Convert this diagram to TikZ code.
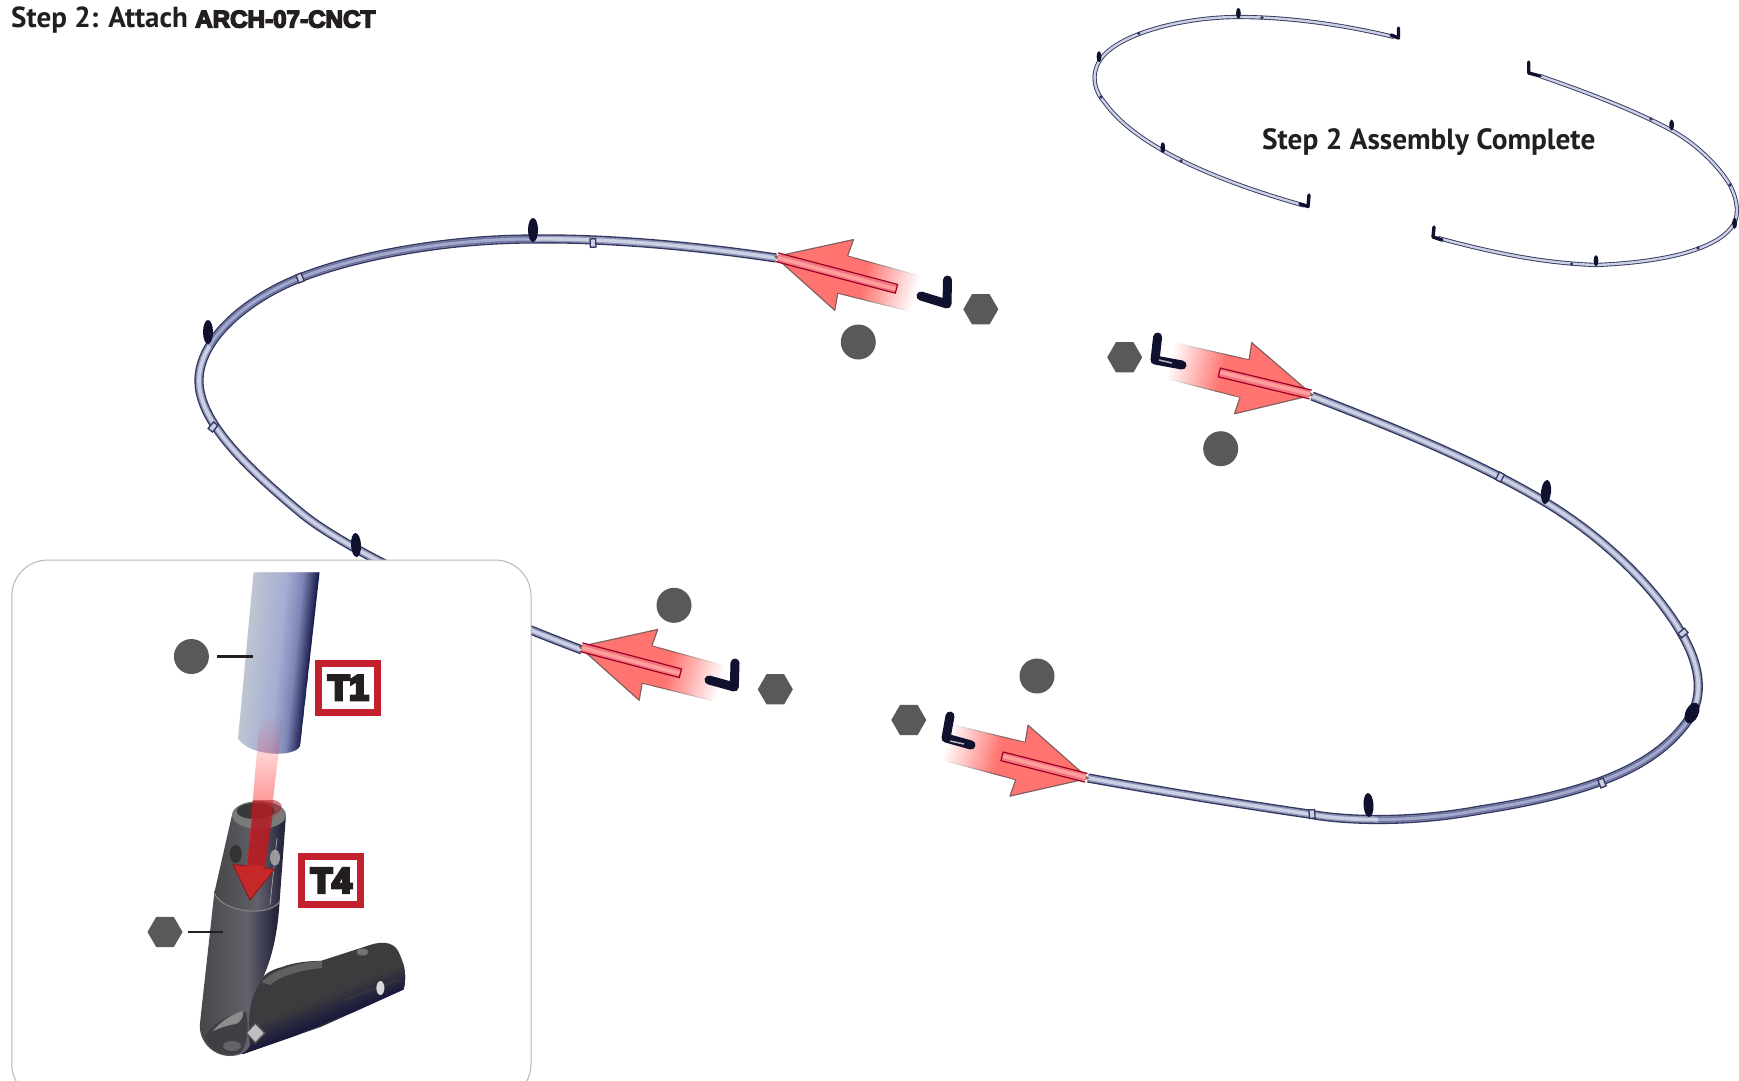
\documentclass[tikz,border=0pt]{standalone}
\usepackage{fontspec}
\usetikzlibrary{shapes.geometric,fadings}
\setmainfont{PT Sans}
\newcommand{\heavyfont}[2]{\font\hvtmp="Liberation Sans/B:embolden=#2" at #1pt \hvtmp}
\definecolor{markgray}{HTML}{58595B}
\definecolor{inkc}{HTML}{231F20}
\definecolor{labelred}{HTML}{C1202C}
\definecolor{arrowred}{HTML}{FF7470}
\definecolor{arrowedge}{HTML}{84605E}
\definecolor{navy}{HTML}{10112F}
\definecolor{tubedark}{HTML}{33375F}
\definecolor{tubemid}{HTML}{8D93B4}
\definecolor{tubelight}{HTML}{CBD0E4}
\definecolor{tubeshadow}{HTML}{6D73A0}
\definecolor{tubeshadowc}{HTML}{A3A9CC}
\definecolor{t0}{HTML}{BFC5D2}\definecolor{t1}{HTML}{A5AED3}\definecolor{t2}{HTML}{7F86B6}\definecolor{t3}{HTML}{1C2050}
\definecolor{s0}{HTML}{47474B}\definecolor{s1}{HTML}{55555A}\definecolor{s2}{HTML}{62626E}\definecolor{s3}{HTML}{26263C}
\pgfdeclarehorizontalshading{greyshade}{100bp}{color(0bp)=(s0);color(25bp)=(s0);color(42bp)=(s1);color(55bp)=(s2);color(72bp)=(s3);color(100bp)=(s3)}
\definecolor{a0}{HTML}{3C3C3E}\definecolor{a1}{HTML}{1B1B3D}
\tikzset{
  partcircle/.style={circle,fill=markgray,draw=none,minimum size=35,inner sep=0},
  parthex/.style={regular polygon,regular polygon sides=6,fill=markgray,draw=none,minimum size=35,inner sep=0},
  bigpipe/.style={draw=tubemid,line width=6.5,preaction={draw=tubedark,line width=9.2},postaction={draw=tubelight,line width=3.6}},
  darkpipe/.style={draw=tubeshadow,line width=6,postaction={draw=tubeshadowc,line width=3}},
  smallpipe/.style={draw=tubelight,line width=2.4,preaction={draw=tubedark,line width=4.2}},
  pinfill/.style={fill=navy},
  lpart/.style={draw=navy,line width=9,line cap=round,line join=round},
  lpartsmall/.style={draw=navy,line width=3.4,line cap=round,line join=round},
  leader/.style={draw=inkc,line width=2.5},
  tag/.style={draw=labelred,line width=7,fill=white,minimum width=59,minimum height=48.5,inner sep=0,text=inkc,font=\heavyfont{35}{9}},
  bandmark/.style={fill=tubelight,draw=tubedark,line width=1.3},
}
% tip x, tip y, angle of the tail as seen from the tip, tube length
\newcommand{\partarrow}[4]{%
  \begin{scope}[shift={(#1,#2)},rotate=#3]
    \foreach \i in {0,...,23}{
      \pgfmathsetmacro{\xa}{148-\i*3.25}
      \pgfmathsetmacro{\xb}{\xa-4.5}
      \pgfmathsetmacro{\ka}{min(100,\i*6)}
      \pgfmathsetmacro{\hw}{18.3+\i*0.04}
      \fill[arrowred!\ka!white] (\xa,-\hw) -- (\xb,-\hw) -- (\xb,\hw) -- (\xa,\hw) -- cycle;
      \draw[arrowedge!\ka!white,line width=1] (\xa,-\hw) -- (\xb,-\hw) (\xa,\hw) -- (\xb,\hw);
    }
    \draw[fill=arrowred,draw=arrowedge,line width=1.2,line join=round]
      (70,-19.3) -- (71.5,-36.6) -- (0,0) -- (71.5,36.6) -- (70,19.3);
    \fill[arrowred] (70,-18.7) rectangle (76,18.7);
    \fill[arrowred!70!purple!80!white] (3,-3.5) rectangle (#4,4.5);
    \fill[arrowred!70!white] (3,-1.5) rectangle (#4,2.2);
    \draw[draw=black!30!purple!80!red,line width=1.2] (2,-4.5) -- (#4,-4.5) -- (#4,4.5) -- (2,4.5);
  \end{scope}}
% strips along the inset tube: first, last, two colours
\newcommand{\tubestrips}[4]{%
  \foreach \i in {#1,...,#2}{
    \pgfmathsetmacro{\ka}{100*(#2-\i)/(#2-#1)}
    \pgfmathsetmacro{\fa}{\i/40}
    \pgfmathsetmacro{\fb}{(\i+1.5)/40}
    \fill[#3!\ka!#4] ({253.6+66*\fa},572) -- ({253.6+66*\fb},572) -- ({236.4+64*\fb},756) -- ({236.4+64*\fa},756) -- cycle;
  }}
\begin{document}
\begin{tikzpicture}[x=1pt,y=-1pt]
\clip (0,0) rectangle (1739,1080);
\fill[white] (0,0) rectangle (1739,1080);

% title
\node[anchor=west,inner sep=0,text=inkc,font=\bfseries\fontsize{29}{29}\selectfont] (title) at (11,20) {Step 2: Attach {\heavyfont{24.2}{6}ARCH-07-CNCT}};

% complete assembly
\draw[smallpipe] (1394,37) .. controls (1345,25) and (1290,17) .. (1238,17) .. controls (1185,17) and (1118,33) .. (1100,60) .. controls (1090,76) and (1095,92) .. (1105,103) .. controls (1128,135) and (1185,172) .. (1304,205.5);
\draw[smallpipe] (1540,76) .. controls (1580,90) and (1630,108) .. (1671,130) .. controls (1695,143) and (1718,165) .. (1730,185) .. controls (1740,205) and (1738,220) .. (1731,228) .. controls (1715,248) and (1670,262) .. (1596,265) .. controls (1540,263) and (1490,252) .. (1438,238);
\draw[lpartsmall] (1398.5,28) -- (1398.5,38) -- (1391,35);
\draw[lpartsmall] (1309,195) -- (1308,206.5) -- (1300,204);
\draw[lpartsmall] (1528.7,62) -- (1528.7,73) -- (1540,76);
\draw[lpartsmall] (1434,227) -- (1433,237) -- (1442,240);
\foreach \x/\y in {1238.4/13.3,1099/56.7,1162.8/147.7,1671.6/125,1734.6/223.3,1596/260.7}
  \fill[pinfill] (\x,\y) ellipse [x radius=2.4,y radius=5.5];
\foreach \x/\y in {1138.8/33.3,1262/17.8,1101/97,1181/161,1651/119,1730/185,1698/248,1571.6/264}
  \fill[tubedark] (\x,\y) circle [radius=1.8];
\node[inner sep=0,text=inkc,font=\bfseries\fontsize{29.3}{30}\selectfont] (donelabel) at (1428.7,142) {Step 2 Assembly Complete};

% exploded arches
\draw[bigpipe] (776,258) .. controls (690,245) and (600,238) .. (533,239) .. controls (440,239) and (345,258) .. (290,282) .. controls (245,302) and (198,340) .. (199,382) .. controls (200,420) and (240,462) .. (300,512) .. controls (345,550) and (470,608) .. (582,650);
\draw[darkpipe] (533,239) .. controls (440,239) and (345,258) .. (290,282) .. controls (258.5,296) and (226,318.8) .. (209.7,345.7);
\draw[bigpipe] (1312,396) .. controls (1400,430) and (1480,463) .. (1545,502) .. controls (1610,541) and (1668,600) .. (1690,650) .. controls (1702,678) and (1702,705) .. (1683,727) .. controls (1650,768) and (1590,793) .. (1480,810) .. controls (1405,824) and (1340,820) .. (1309,814) .. controls (1240,804) and (1160,791) .. (1088,778);
\draw[darkpipe] (1693.8,709.6) .. controls (1691.3,715.7) and (1687.75,721.5) .. (1683,727) .. controls (1650,768) and (1590,793) .. (1480,810) .. controls (1442.5,817) and (1407.5,819.5) .. (1378,819.5);
\foreach \x/\y/\a in {533/230/0,208/332/0,356/545/3,1546/492/-6,1368.5/805/3}
  \fill[pinfill,rotate around={\a:(\x,\y)}] (\x,\y) ellipse [x radius=5,y radius=12];
\fill[pinfill,rotate around={-25:(1692,713)}] (1692,713) ellipse [x radius=6.5,y radius=11];
\foreach \x/\y/\a in {593/243/3,300/278/22,213/427/-40,1500/477/-28,1683/633/-50,1602/783/22,1312/814/5}
  \draw[bandmark,rotate around={\a:(\x,\y)}] (\x-2.8,\y-4.2) rectangle (\x+2.8,\y+4.2);

% four arrows with their parts
\partarrow{775}{256.7}{-14.8}{125.6}
\partarrow{1312.6}{395}{166.4}{96}
\partarrow{579.3}{646.7}{-14.7}{104.5}
\partarrow{1088.3}{778.3}{165.7}{89}

\draw[lpart] (947.5,280) -- (947,304) -- (921,296);
\draw[lpart] (1157.6,337) -- (1155,360) -- (1182,365);
\draw[lpart] (735,663) -- (734.3,687) -- (709,680);
\draw[lpart] (950,716) -- (946,738) -- (971,745);
\draw[white!70!navy,line width=1.5] (1159,360) -- (1172,363) (950,741) -- (964,744);

\node[partcircle] (c1) at (858.3,342) {};
\node[partcircle] (c2) at (1220.7,448.7) {};
\node[partcircle] (c3) at (674,605.3) {};
\node[partcircle] (c4) at (1037,676) {};
\node[parthex] (h1) at (980.8,309.3) {};
\node[parthex] (h2) at (1124.7,357.3) {};
\node[parthex] (h3) at (775.3,689.3) {};
\node[parthex] (h4) at (908.8,720) {};

% detail inset
\draw[fill=white,draw=black!28,line width=1,rounded corners=36] (11.8,560) rectangle (531,1100);

% angled connector: second arm
\begin{scope}
  \clip (257,986) .. controls (262,975) and (270,970) .. (282,967) .. controls (295,962) and (310,961) .. (321.4,960.7)
    -- (370,945) .. controls (385,940) and (396,943) .. (400,955) .. controls (406,968) and (406,980) .. (403.6,989.5)
    -- (321.4,1026.7) -- (243,1054) -- (225,1040) -- cycle;
  \fill[a0] (220,935) rectangle (410,1060);
  \fill[black!62] (262,982) .. controls (272,970) and (300,962) .. (322,961) -- (322,968) .. controls (300,970) and (280,976) .. (270,985) -- cycle;
  \foreach \o in {24,21,...,0}{
    \pgfmathsetmacro{\ka}{100-\o*4}
    \draw[a1!\ka!a0,line width=4] (410,{987-\o}) -- (235,{1058-\o});
  }
\end{scope}
\draw[black!75,line width=.8] (338,969) -- (390,951) (345,1000) -- (398,980);
\fill[black!15] (380.4,988) ellipse [x radius=4,y radius=7];
\fill[black!55] (362.5,952) ellipse [x radius=6,y radius=3.5];
% lower arm
\shade[shading=greyshade] (214.3,893) -- (200,1023) .. controls (198,1040) and (212,1056) .. (230,1056) .. controls (240,1056) and (247,1052) .. (250,1045)
  .. controls (247,1020) and (250,1000) .. (257,988) .. controls (272,965) and (278,930) .. (279.6,901.6) -- cycle;
\fill[s0!90!black] (205,1036) .. controls (212,1024) and (232,1012) .. (246,1012) .. controls (250,1030) and (246,1048) .. (240,1053) .. controls (226,1058) and (208,1052) .. (205,1036) -- cycle;
\fill[black!45] (213,1031) .. controls (220,1022) and (232,1014) .. (243,1011) .. controls (244,1018) and (240,1022) .. (236,1024) .. controls (228,1025) and (220,1028) .. (213,1031) -- cycle;
\fill[s2!90!white,opacity=.7] (232,1046) ellipse [x radius=9,y radius=5];
\fill[black!25,draw=black!70,line width=1.5] (255.4,1023) -- (265,1033) -- (255.4,1043) -- (246,1033) -- cycle;
% upper socket
\shade[shading=greyshade] (232,815) -- (214.3,893) .. controls (222,912) and (268,918) .. (279.6,901.6) -- (286,815) -- cycle;
\draw[black!50,line width=1.2] (214.3,893) .. controls (222,912) and (268,918) .. (279.6,901.6);
\fill[black!52] (259,815) ellipse [x radius=27,y radius=14];
\fill[black!78] (255.5,811) ellipse [x radius=19,y radius=8];
\fill[black!80] (235.7,854) ellipse [x radius=6,y radius=9];
\fill[black!40] (275,857.6) ellipse [x radius=5,y radius=8];
\draw[black!35,line width=.7] (277,838) -- (270,905);
% tube
\begin{scope}
  \clip (253.6,572.3) -- (319.6,572.3) -- (300,746) .. controls (297,752) and (285,754) .. (275,753.5) .. controls (255,753) and (240,745) .. (236.4,735.3) -- cycle;
  \tubestrips{0}{20}{t0}{t1}
  \tubestrips{20}{30}{t1}{t2}
  \tubestrips{30}{39}{t2}{t3}
\end{scope}
% arrow of the inset
\fill[red!75!arrowred,path fading=north,fill opacity=.8] (260,715.6) -- (283,715.6) -- (265,868) -- (247,868) -- cycle;
\begin{scope}
  \clip (232,815) -- (214.3,893) -- (279.6,901.6) -- (286,815) -- cycle;
  \fill[labelred!85!black,opacity=.7] (254,800) -- (275,800) -- (265,868) -- (247,868) -- cycle;
\end{scope}
\fill[labelred!85!black,opacity=.55] (253,800) -- (274,800) .. controls (282,802) and (286,808) .. (275,815) -- (250,815) -- cycle;
\draw[fill=labelred!92!orange,draw=black!25!labelred,line width=1] (247,866) -- (232.9,864.4) -- (250,900) -- (274.3,869.5) -- (263.6,867.8);
\fill[labelred!92!orange] (247,864) -- (263.6,866) -- (263,869.5) -- (247,868) -- cycle;

\node[partcircle] (incircle) at (191.4,656.5) {};
\node[parthex] (inhex) at (165,932) {};
\coordinate (intube) at (252.5,656.5);
\coordinate (inconn) at (222.5,932);
\draw[leader,shorten <=8] (incircle) -- (intube);
\draw[leader,shorten <=5] (inhex) -- (inconn);
\node[tag] (t1) at (348.4,687.8) {T1};
\node[tag] (t4) at (331.2,880.6) {T4};
\end{tikzpicture}
\end{document}
